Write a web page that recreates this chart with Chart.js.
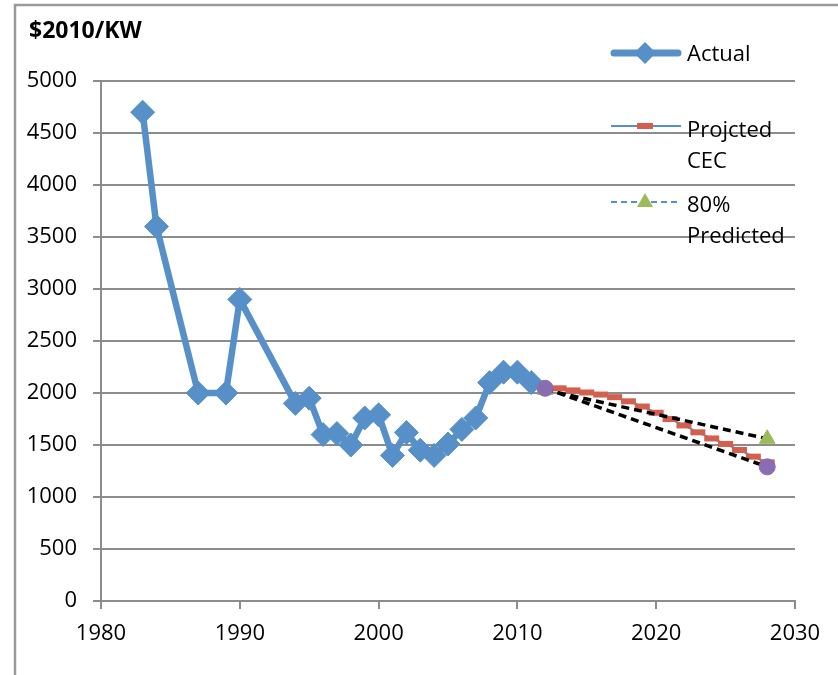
<!DOCTYPE html>
<html><head><meta charset="utf-8">
<script src="https://cdn.jsdelivr.net/npm/chart.js@4/dist/chart.umd.min.js"></script>
<style>html,body{margin:0;padding:0;background:#fff;} canvas{display:block;}</style>
</head><body>
<canvas id="c" width="838" height="675"></canvas>
<script>
// ---- data ----
const actualYears  = [1983,1984,1987,1989,1990,1994,1995,1996,1997,1998,1999,2000,2001,2002,2003,2004,2005,2006,2007,2008,2009,2010,2011,2012];
const actualValues = [4700,3600,2000,2000,2900,1900,1950,1600,1610,1500,1760,1790,1400,1620,1450,1400,1510,1650,1760,2100,2200,2200,2100,2040];
const projYears    = [2012,2013,2014,2015,2016,2017,2018,2019,2020,2021,2022,2023,2024,2025,2026,2027,2028];
const projValues   = [2045,2045,2025,2005,1985,1960,1920,1870,1810,1750,1688,1622,1563,1510,1452,1388,1333];
const predYears    = [2012,2028];
const predValues   = [2030,1560];
const lowYears     = [2012,2028];
const lowValues    = [2045,1290];
const xTicks = [1980,1990,2000,2010,2020,2030];
const yTicks = [0,500,1000,1500,2000,2500,3000,3500,4000,4500,5000];
const yTitle = '$2010/KW';
const legendNames = [['Actual'], ['Projcted','CEC'], ['80%','Predicted']];

const BLUE = '#5790c8', RED = '#d3604f', GREEN = '#9bbb59', PURPLE = '#8a6cb0', GRID = '#8c8c8c';
const FONT = '"Open Sans", "Liberation Sans", sans-serif';

const pts = (xs, ys) => xs.map((x, i) => ({x: x, y: ys[i]}));

const decor = {
  id: 'decor',
  afterDraw(chart) {
    const ctx = chart.ctx;
    ctx.save();
    // outer frame (top + left)
    ctx.strokeStyle = '#9a9a9a';
    ctx.lineWidth = 2.5;
    ctx.beginPath();
    ctx.moveTo(15, 675); ctx.lineTo(15, 5); ctx.lineTo(838, 5);
    ctx.stroke();
    // title
    ctx.fillStyle = '#000';
    ctx.font = 'bold 23px ' + FONT;
    ctx.textBaseline = 'alphabetic';
    ctx.textAlign = 'left';
    ctx.fillText(yTitle, 29, 38);
    // legend
    const x0 = 611, x1 = 681, xm = 645, tx = 687;
    // Actual
    ctx.strokeStyle = BLUE; ctx.lineWidth = 7; ctx.lineCap = 'round';
    ctx.beginPath(); ctx.moveTo(x0 + 3, 53); ctx.lineTo(x1 - 3, 53); ctx.stroke();
    ctx.lineCap = 'butt';
    ctx.fillStyle = BLUE;
    ctx.beginPath(); ctx.moveTo(xm, 42); ctx.lineTo(xm + 11, 53); ctx.lineTo(xm, 64); ctx.lineTo(xm - 11, 53); ctx.closePath(); ctx.fill();
    // Projected
    ctx.strokeStyle = BLUE; ctx.lineWidth = 2;
    ctx.beginPath(); ctx.moveTo(x0, 126); ctx.lineTo(x1, 126); ctx.stroke();
    ctx.fillStyle = RED; ctx.fillRect(xm - 8, 123, 16, 6);
    // Predicted
    ctx.strokeStyle = BLUE; ctx.lineWidth = 2; ctx.setLineDash([6, 4]);
    ctx.beginPath(); ctx.moveTo(x0, 202); ctx.lineTo(x1, 202); ctx.stroke();
    ctx.setLineDash([]);
    ctx.fillStyle = GREEN;
    ctx.beginPath(); ctx.moveTo(xm, 193); ctx.lineTo(xm + 8, 207); ctx.lineTo(xm - 8, 207); ctx.closePath(); ctx.fill();
    // legend texts
    ctx.fillStyle = '#000';
    ctx.font = '22px ' + FONT;
    const baselines = [[61], [137, 168], [212, 243]];
    legendNames.forEach((lines, i) => lines.forEach((t, j) => ctx.fillText(t, tx, baselines[i][j])));
    ctx.restore();
  }
};

new Chart(document.getElementById('c'), {
  type: 'scatter',
  data: {
    datasets: [
      { label: 'Low', data: pts(lowYears, lowValues), showLine: true, order: 0,
        borderColor: '#000', borderWidth: 3.5, borderDash: [8, 5],
        pointStyle: 'circle', pointRadius: 8, pointBackgroundColor: PURPLE, pointBorderColor: PURPLE, pointBorderWidth: 1 },
      { label: legendNames[2].join(' '), data: pts(predYears, predValues), showLine: true, order: 1,
        borderColor: '#000', borderWidth: 3.5, borderDash: [8, 5],
        pointStyle: 'triangle', pointRadius: 9, pointBackgroundColor: GREEN, pointBorderColor: GREEN, pointBorderWidth: 1 },
      { label: legendNames[1].join(' '), data: pts(projYears, projValues), showLine: true, order: 2,
        borderColor: BLUE, borderWidth: 2,
        pointStyle: 'line', pointRadius: 7.5, pointBorderColor: RED, pointBackgroundColor: RED, pointBorderWidth: 6 },
      { label: legendNames[0].join(' '), data: pts(actualYears, actualValues), showLine: true, order: 3,
        borderColor: BLUE, borderWidth: 6.5, borderJoinStyle: 'round', borderCapStyle: 'round',
        pointStyle: 'rectRot',
        pointRadius: c => (c.dataIndex === actualYears.length - 1 ? 0 : 12),
        pointBackgroundColor: BLUE, pointBorderColor: BLUE, pointBorderWidth: 1 }
    ]
  },
  options: {
    responsive: false,
    animation: false,
    devicePixelRatio: 1,
    layout: { padding: { top: 81, right: 43, bottom: 0, left: 0 } },
    plugins: { legend: { display: false }, tooltip: { enabled: false } },
    scales: {
      x: {
        type: 'linear', min: 1980, max: 2030,
        afterBuildTicks: s => { s.ticks = xTicks.map(v => ({value: v})); },
        afterFit: s => { s.height = 74; },
        grid: { drawOnChartArea: false, drawTicks: true, tickLength: 8, color: GRID, lineWidth: 2 },
        border: { display: true, color: GRID, width: 2 },
        ticks: { padding: 12, color: '#000', font: { family: FONT, size: 22 }, maxRotation: 0, callback: v => String(v) }
      },
      y: {
        type: 'linear', min: 0, max: 5000,
        afterBuildTicks: s => { s.ticks = yTicks.map(v => ({value: v})); },
        afterFit: s => { s.width = 101; },
        grid: { drawOnChartArea: true, drawTicks: true, tickLength: 8, color: GRID, lineWidth: 2 },
        border: { display: true, color: GRID, width: 2 },
        ticks: { padding: 16, color: '#000', font: { family: FONT, size: 22 }, callback: v => String(v) }
      }
    }
  },
  plugins: [decor]
});
</script>
</body></html>
